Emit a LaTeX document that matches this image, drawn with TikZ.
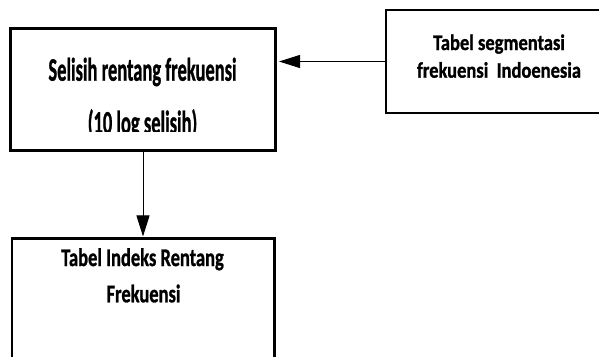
\documentclass[tikz,border=0pt]{standalone}
\usepackage{fontspec}
\setmainfont{Carlito}[BoldFeatures={FakeBold=1.2}]
\usetikzlibrary{arrows.meta}
\tikzset{
  box/.style={draw, line width=#1, inner sep=0pt, fill=white},
  box/.default=2.5pt,
  lbl/.style={anchor=base, inner sep=0pt, font=\bfseries\fontsize{18.5}{22}\selectfont},
  link/.style={line width=1pt, -{Triangle[length=21pt,width=13pt]}},
}
% stretch a line of text vertically
\newcommand{\talltext}[2]{\scalebox{1}[#1]{#2}}

\begin{document}
\begin{tikzpicture}[x=1pt,y=-1pt]
\clip (0,0) rectangle (599,356);
\fill[white] (0,0) rectangle (599,356);

% boxes
\node[box=3pt, minimum width=265pt, minimum height=122pt] (b1) at (143,89.5) {};
\node[box, minimum width=224pt, minimum height=103pt] (b2) at (498,61.5) {};
\node[box, minimum width=262.7pt, minimum height=131.3pt] (b3) at (143.15,304.35) {};

% labels
\node[lbl] (t1a) at (142.5,80.7) {\talltext{1.77}{Selisih rentang frekuensi}};
\begin{scope}
  \clip (0,0) rectangle (599,131.5);
  \node[lbl] (t1b) at (142.5,133.5) {\talltext{1.77}{(10 log selisih)}};
\end{scope}
\node[lbl] (t2a) at (499,50) {\talltext{1.2}{Tabel segmentasi}};
\node[lbl] (t2b) at (499,77.7) {\talltext{1.2}{frekuensi\ \ Indoenesia}};
\node[lbl] (t3a) at (142.5,266) {\talltext{1.37}{Tabel Indeks Rentang}};
\node[lbl] (t3b) at (143.5,302.3) {\talltext{1.37}{Frekuensi}};

% connectors
\draw[link, shorten >=2pt] (b2.west) -- (b2.west -| b1.east);
\draw[link, shorten >=1pt] (b1.south) -- (b1.south |- b3.north);
\end{tikzpicture}
\end{document}
